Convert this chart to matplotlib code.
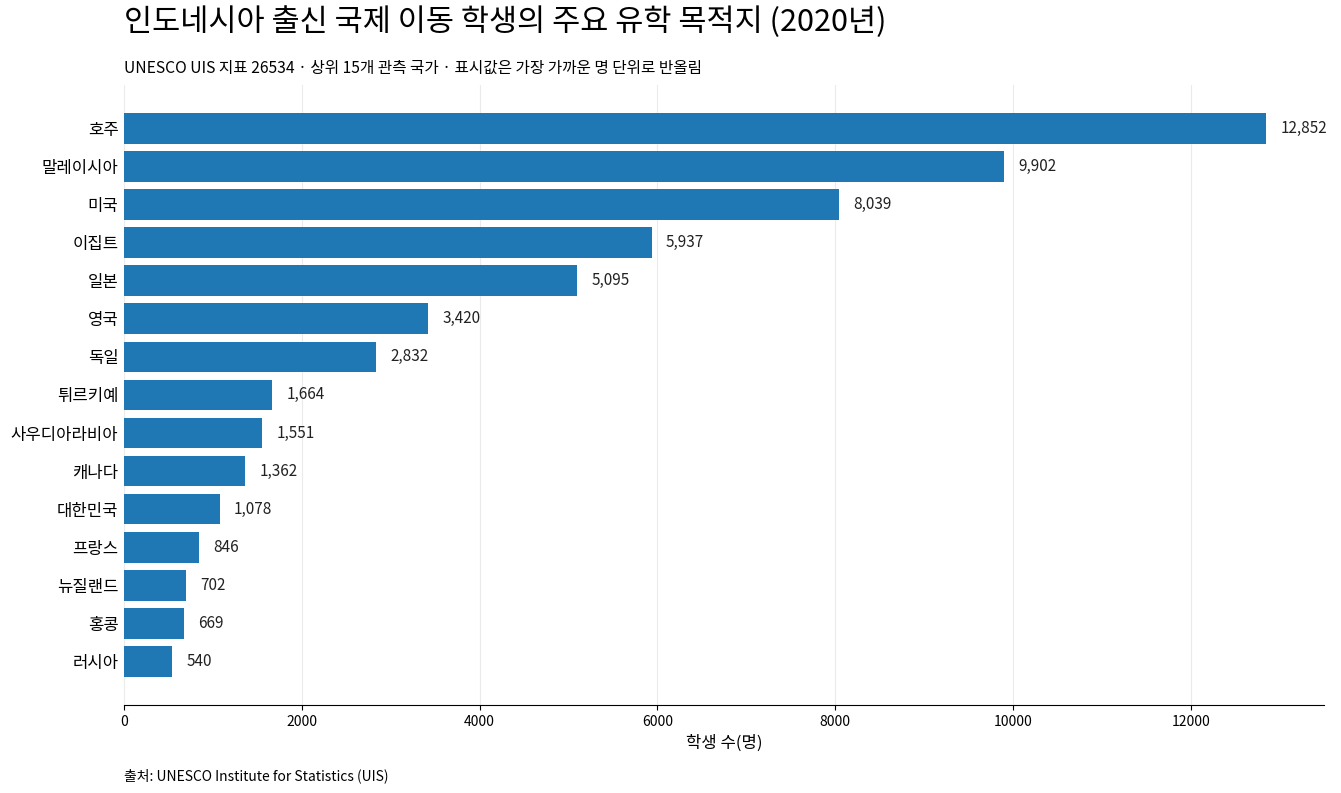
import matplotlib.pyplot as plt

plt.rcParams['font.family'] = ['Noto Sans CJK KR', 'DejaVu Sans']

countries = ['호주', '말레이시아', '미국', '이집트', '일본', '영국', '독일', '튀르키예',
             '사우디아라비아', '캐나다', '대한민국', '프랑스', '뉴질랜드', '홍콩', '러시아']
students = [12852, 9902, 8039, 5937, 5095, 3420, 2832, 1664,
            1551, 1362, 1078, 846, 702, 669, 540]

fig = plt.figure(figsize=(13.41, 7.93), dpi=100)
ax = fig.add_axes([0.0925, 0.111, 0.8945, 0.782])

ax.barh(countries, students, height=0.8, color='#1f77b4', zorder=2)
ax.invert_yaxis()
ax.set_xlim(0, max(students) * 1.05)

for i, v in enumerate(students):
    ax.text(v + 160, i, f'{v:,}', va='center', ha='left', fontsize=11, color='#222222')

ax.grid(axis='x', color='#ebebeb', linewidth=0.8, zorder=0)
ax.set_axisbelow(True)
for s in ['top', 'right', 'left']:
    ax.spines[s].set_visible(False)
ax.tick_params(axis='y', length=0, labelsize=12, pad=4)
ax.tick_params(axis='x', labelsize=10)
ax.set_xlabel('학생 수(명)', fontsize=12)

fig.text(0.0925, 0.972, '인도네시아 출신 국제 이동 학생의 주요 유학 목적지 (2020년)',
         fontsize=22, va='center', ha='left')
fig.text(0.0925, 0.914, 'UNESCO UIS 지표 26534 · 상위 15개 관측 국가 · 표시값은 가장 가까운 명 단위로 반올림',
         fontsize=11.3, va='center', ha='left')
fig.text(0.0925, 0.022, '출처: UNESCO Institute for Statistics (UIS)',
         fontsize=10, va='center', ha='left')

fig.savefig('out.png', dpi=100)
